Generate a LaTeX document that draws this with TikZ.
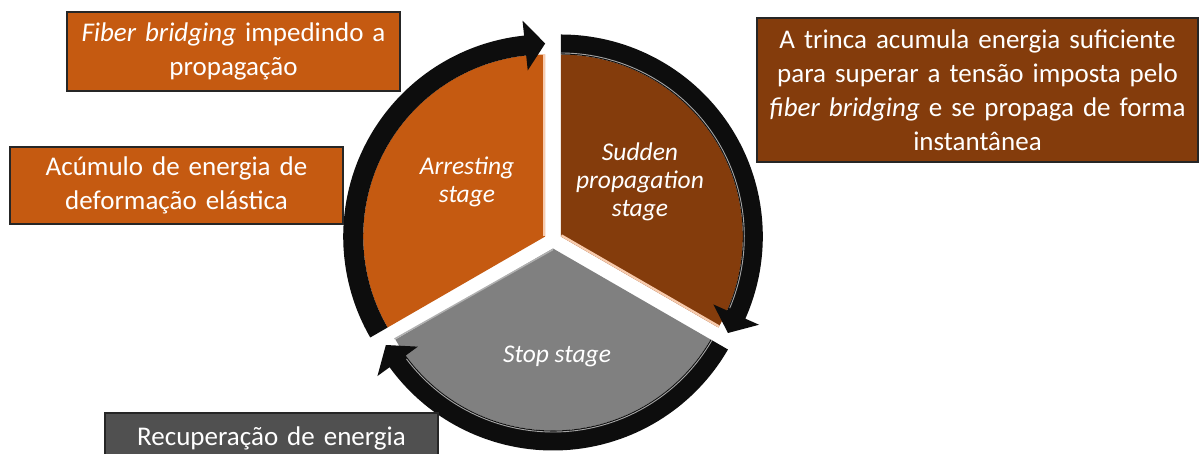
\documentclass[tikz,border=0pt]{standalone}
\usepackage{fontspec}
\setmainfont{Carlito}
\usetikzlibrary{calc}
\definecolor{orng}{HTML}{C55A11}
\definecolor{brwn}{HTML}{843C0C}
\definecolor{gbox}{HTML}{505050}
\definecolor{gsec}{HTML}{808080}
\definecolor{ringcol}{HTML}{0D0D0D}
\definecolor{bevo}{HTML}{F8CBAD}
\definecolor{bevg}{HTML}{B0B0B0}
\newcommand\ringarrow[3]{%
  \fill[ringcol] ([shift={(#2:182)}]#1) arc[start angle=#2, end angle=#3+6, radius=182]
    -- ([shift={(#3+6:167)}]#1) -- ([shift={(#3:193)}]#1) -- ([shift={(#3+6:217)}]#1)
    -- ([shift={(#3+6:202)}]#1) arc[start angle=#3+6, end angle=#2, radius=202] -- cycle;}
\newcommand\ringshine[3]{%
  \draw[gray!70, line width=0.9pt] ([shift={(#2:183.5)}]#1) arc[start angle=#2, end angle=#3+7, radius=183.5];}
\begin{document}
\begin{tikzpicture}[x=1pt,y=1pt,
  txtbox/.style={draw=black!85, line width=1.2pt, text=white,
    font=\fontsize{27}{34}\selectfont, align=center, inner sep=0pt},
  lab/.style={text=white, font=\fontsize{25.5}{28}\selectfont\itshape, align=center}]
\useasboundingbox (0,0) rectangle (1201,454);
\clip (0,0) rectangle (1201,454);
% centres of exploded sectors
\coordinate (ca) at (545.2,217.5);
\coordinate (cs) at (560.8,217.5);
\coordinate (cg) at (553,205.5);
% sectors
\fill[orng] (ca) -- ([shift={(90:182)}]ca) arc[start angle=90, end angle=210, radius=182] -- cycle;
\fill[brwn] (cs) -- ([shift={(-30:182)}]cs) arc[start angle=-30, end angle=90, radius=182] -- cycle;
\fill[gsec] (cg) -- ([shift={(210:182)}]cg) arc[start angle=210, end angle=330, radius=182] -- cycle;
% bevel highlights
\draw[bevo, line width=2pt] ($(ca)+(-1,0)$) -- ($(ca)+(-1,182)$);
\draw[bevo, line width=2.4pt] ($(cs)+(60:1.2)$) -- ($(cs)+(-30:182)+(60:1.2)$);
\draw[bevg, line width=1.5pt] ($(cg)+(0,-1)$) -- ($(cg)+(150:1)+(210:182)$);
% ring arrows
\ringarrow{ca}{210}{90}
\ringarrow{cs}{90}{-30}
\ringarrow{cg}{-30}{-150}
\ringshine{cs}{90}{-30}
\ringshine{cg}{-30}{-150}
% sector labels
\node[lab] (la) at (467,272) {Arresting\\stage};
\node[lab] (ls) at (640,272) {Sudden\\propagation\\stage};
\node[lab] (lg) at (557,98) {Stop stage};
% text boxes
\node[txtbox, fill=orng, minimum width=333pt, minimum height=79pt, text width=325pt] (b1) at (233.5,402.5)
  {\textit{Fiber bridging} impedindo a\\propagação};
\node[txtbox, fill=orng, minimum width=333pt, minimum height=77pt, text width=325pt] (b2) at (176.5,268.5)
  {Acúmulo de energia de\\deformação elástica};
\node[txtbox, fill=brwn, minimum width=441pt, minimum height=144pt, text width=430pt] (b3) at (977.5,364)
  {A trinca acumula energia suficiente\\para superar a tensão imposta pelo\\\textit{fiber bridging} e se propaga de forma\\instantânea};
\node[txtbox, fill=gbox, minimum width=333pt, minimum height=50pt, text width=325pt] (b4) at (271.5,16)
  {Recuperação de energia};
\end{tikzpicture}
\end{document}
